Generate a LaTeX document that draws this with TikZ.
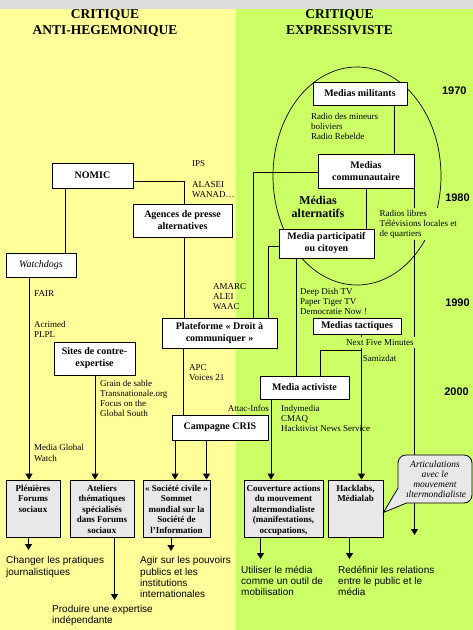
\documentclass[tikz,border=0pt]{standalone}
\usepackage{fontspec}
\setmainfont{Liberation Serif}
\newfontfamily\arialf{Liberation Sans}
\usetikzlibrary{arrows.meta}
\definecolor{bgyellow}{RGB}{255,255,153}
\definecolor{bggreen}{RGB}{204,255,102}
\definecolor{topgray}{RGB}{220,220,220}
\definecolor{boxgray}{RGB}{232,232,232}
\newcommand{\myrule}[1]{\rule{0pt}{#1}}
\begin{document}
\begin{tikzpicture}[x=1pt,y=-1pt,
  conn/.style={line width=0.8pt},
  arr/.style={line width=0.8pt,-{Triangle[width=7pt,length=6pt]}},
  wbox/.style={draw,fill=white,line width=0.8pt,align=center,inner sep=1pt,
    font=\bfseries\fontsize{10}{12}\selectfont},
  gbox/.style={draw,fill=boxgray,line width=0.8pt,minimum height=57pt,inner sep=0pt},
  gtext/.style={anchor=north,align=center,inner sep=0pt,
    font=\bfseries\fontsize{9}{10.5}\selectfont},
  lbl/.style={anchor=north west,align=left,inner sep=0pt,
    font=\fontsize{9}{10.2}\selectfont},
  outtxt/.style={anchor=north west,align=left,inner sep=0pt,
    font=\arialf\fontsize{10}{11.3}\selectfont},
  yr/.style={inner sep=0pt,font=\arialf\bfseries\fontsize{11}{13}\selectfont},
  head/.style={anchor=north,align=center,inner sep=0pt,
    font=\bfseries\fontsize{13.5}{16}\selectfont}]
\useasboundingbox (0,0) rectangle (473,630);
% backgrounds
\fill[topgray] (0,0) rectangle (473,9);
\fill[bgyellow] (0,9) rectangle (236,630);
\fill[bggreen] (236,9) rectangle (473,630);
% headers
\node[head] (h1) at (105,8.5) {\myrule{10pt}CRITIQUE\\ANTI-HEGEMONIQUE};
\node[head] (h2) at (339.5,8.5) {\myrule{10pt}CRITIQUE\\EXPRESSIVISTE};
% ellipse
\draw[line width=0.7pt] (357,176) ellipse [x radius=84pt, y radius=109pt];
% output coordinates
\coordinate (o1) at (28.5,550);
\coordinate (o2) at (114.5,600);
\coordinate (o3) at (171,551);
\coordinate (o4) at (260.5,559);
\coordinate (o5) at (349.5,559);
\coordinate (o6) at (414.5,535);
% boxes
\node[wbox,minimum width=94pt,minimum height=23pt] (mil) at (360,93.5) {Medias militants};
\node[wbox,minimum width=96pt,minimum height=34pt] (com) at (366,171) {Medias\\communautaire};
\node[wbox,minimum width=95pt,minimum height=29pt] (par) at (326.5,243.5) {Media participatif\\ou citoyen};
\node[wbox,minimum width=88pt,minimum height=16pt] (tac) at (357,326) {Medias tactiques};
\node[wbox,minimum width=89pt,minimum height=23pt] (act) at (304.5,387.5) {Media activiste};
\node[wbox,minimum width=81pt,minimum height=25pt] (nomic) at (92.5,175.5) {NOMIC};
\node[wbox,minimum width=99pt,minimum height=33pt] (agen) at (182.5,220.5) {Agences de presse\\alternatives};
\node[wbox,minimum width=70pt,minimum height=24pt,font=\itshape\fontsize{10}{12}\selectfont] (watch) at (41,265) {Watchdogs};
\node[wbox,minimum width=81pt,minimum height=33pt] (sites) at (94.5,358.5) {Sites de contre-\\expertise};
\node[wbox,minimum width=115pt,minimum height=30pt] (plat) at (219.5,333) {Plateforme « Droit à\\communiquer »};
\node[wbox,minimum width=96pt,minimum height=25pt] (cris) at (220,427.5) {Campagne CRIS};
% gray boxes
\node[gbox,minimum width=54pt] (plen) at (33,508.5) {};
\node[gbox,minimum width=64pt] (atel) at (102,508.5) {};
\node[gbox,minimum width=67pt] (soc) at (176.5,508.5) {};
\node[gbox,minimum width=79pt] (couv) at (283.5,508.5) {};
\node[gbox,minimum width=55pt] (hack) at (355.5,508.5) {};
\node[gtext] (plent) at ([yshift=-4.5pt]plen.north) {\myrule{7pt}Plénières\\Forums\\sociaux};
\node[gtext] (atelt) at ([yshift=-4.5pt]atel.north) {\myrule{7pt}Ateliers\\thématiques\\spécialisés\\dans Forums\\sociaux};
\node[gtext] (soct) at ([yshift=-4.5pt]soc.north) {\myrule{7pt}« Société civile »\\Sommet\\mondial sur la\\Société de\\l’Information};
\begin{scope}
\clip ([xshift=0.4pt,yshift=0.4pt]couv.south west) rectangle ([xshift=-0.4pt,yshift=-0.4pt]couv.north east);
\node[gtext] (couvt) at ([yshift=-4.5pt]couv.north) {\myrule{7pt}Couverture actions\\du mouvement\\altermondialiste\\(manifestations,\\occupations,\\…)};
\end{scope}
\node[gtext] (hackt) at ([yshift=-4.5pt]hack.north) {\myrule{7pt}Hacklabs,\\Médialab};
% callout
\node[draw,fill=boxgray,rounded corners=8pt,minimum width=74pt,minimum height=48pt,line width=0.8pt,
  inner sep=0pt,align=center,font=\itshape\fontsize{9.5}{10}\selectfont] (art) at (435,479)
  {Articulations\\avec le\\mouvement\\altermondialiste};
\fill[boxgray] (397.5,488.5) -- (383.5,512.5) -- (406,503.5) -- (406.5,488) -- cycle;
\draw[conn,line join=miter] (398,488) -- (383.5,512.5) -- (406.5,503);
% connectors
\draw[conn] (mil.south -| 394,0) -- (com.north -| 394,0);
\draw[conn] (nomic.east |- 0,181) -| (agen.north -| 184,0);
\draw[conn] (nomic.south -| 65.3,0) -- (watch.north -| 65.3,0);
\draw[arr] (watch.south -| 29,0) -- (plen.north -| 29,0);
\draw[conn] (agen.south -| 184,0) -- (plat.north -| 184,0);
\draw[conn] (plat.south -| 183.5,0) -- (cris.north -| 183.5,0);
\draw[arr] (sites.south -| 95,0) -- (atel.north -| 95,0);
\draw[arr] (cris.south -| 175,0) -- (soc.north -| 175,0);
\draw[arr] (cris.south -| 206.5,0) -- (soc.north -| 206.5,0);
\draw[conn] (com.west |- 0,172) -| (plat.north -| 253,0);
\draw[conn] (par.west |- 0,246) -| (plat.north -| 268,0);
\draw[conn] (com.south) -- (par.north -| com.south);
\draw[conn] (par.south -| 296.5,0) -- (act.north -| 296.5,0);
\draw[conn] (com.south east) -- (art.north -| com.south east);
\draw[conn] (tac.south -| 361.5,0) |- (320.5,350.5) -- (act.north -| 320.5,0);
\draw[arr] (tac.south -| 361.5,0) -- (hack.north -| 361.5,0);
\draw[arr] (act.south -| 271,0) -- (couv.north -| 271,0);
\draw[arr] (plen.south -| o1) -- (o1);
\draw[arr] (atel.south -| o2) -- (o2);
\draw[arr] (soc.south -| o3) -- (o3);
\draw[arr] (couv.south -| o4) -- (o4);
\draw[arr] (hack.south -| o5) -- (o5);
\draw[arr] (art.south -| o6) -- (o6);
% labels
\node[lbl] (l1) at (192,159) {\myrule{7pt}IPS};
\node[lbl] (l2) at (192,180) {\myrule{7pt}ALASEI\\WANAD…};
\node[lbl] (l3) at (34,289) {\myrule{7pt}FAIR};
\node[lbl] (l4) at (34,320) {\myrule{7pt}Acrimed\\PLPL};
\node[lbl] (l5) at (213,282) {\myrule{7pt}AMARC\\ALEI\\WAAC};
\node[lbl] (l6) at (100,379) {\myrule{7pt}Grain de sable\\Transnationale.org\\Focus on the\\Global South};
\node[lbl] (l7) at (189,363) {\myrule{7pt}APC\\Voices 21};
\node[lbl,anchor=north east] (l8) at (269,404) {\myrule{7pt}Attac-Infos};
\node[lbl,font=\fontsize{9}{11}\selectfont] (l9) at (34,443.5) {\myrule{7pt}Media Global\\Watch};
\node[lbl] (l10) at (311,112) {\myrule{7pt}Radio des mineurs\\boliviers\\Radio Rebelde};
\node[lbl,fill=bggreen,inner sep=2pt,font=\fontsize{9}{10}\selectfont] (l11) at (377.3,207.3) {\myrule{7pt}Radios libres\\Télévisions locales et\\de quartiers};
\node[lbl,font=\fontsize{9}{9.9}\selectfont] (l12) at (300,287) {\myrule{7pt}Deep Dish TV\\Paper Tiger TV\\Democratie Now !};
\node[lbl,font=\fontsize{9}{10}\selectfont] (l13) at (281,404.3) {\myrule{7pt}Indymedia\\CMAQ\\Hacktivist News Service};
\node[lbl,fill=bggreen,inner xsep=1pt,inner ysep=2pt] (l14) at (345,336.7) {\myrule{7pt}Next Five Minutes};
\node[lbl] (l15) at (362.7,354.7) {\myrule{7pt}Samizdat};
\node[anchor=north,align=center,inner sep=0pt,font=\bfseries\fontsize{12}{13.3}\selectfont] (alt) at (318,195) {\myrule{9pt}Médias\\alternatifs};
% years
\node[yr] (y1) at (454.3,91) {1970};
\node[yr] (y2) at (457.5,198) {1980};
\node[yr] (y3) at (457.5,303) {1990};
\node[yr] (y4) at (456.5,392) {2000};
% outputs
\node[outtxt] (t1) at (6,555.5) {\myrule{8pt}Changer les pratiques\\journalistiques};
\node[outtxt] (t2) at (52,603.8) {\myrule{8pt}Produire une expertise\\indépendante};
\node[outtxt] (t3) at (140,555.5) {\myrule{8pt}Agir sur les pouvoirs\\publics et les\\institutions\\internationales};
\node[outtxt] (t4) at (241,564.8) {\myrule{8pt}Utiliser le média\\comme un outil de\\mobilisation};
\node[outtxt] (t5) at (338,564.8) {\myrule{8pt}Redéfinir les relations\\entre le public et le\\média};
\end{tikzpicture}
\end{document}
